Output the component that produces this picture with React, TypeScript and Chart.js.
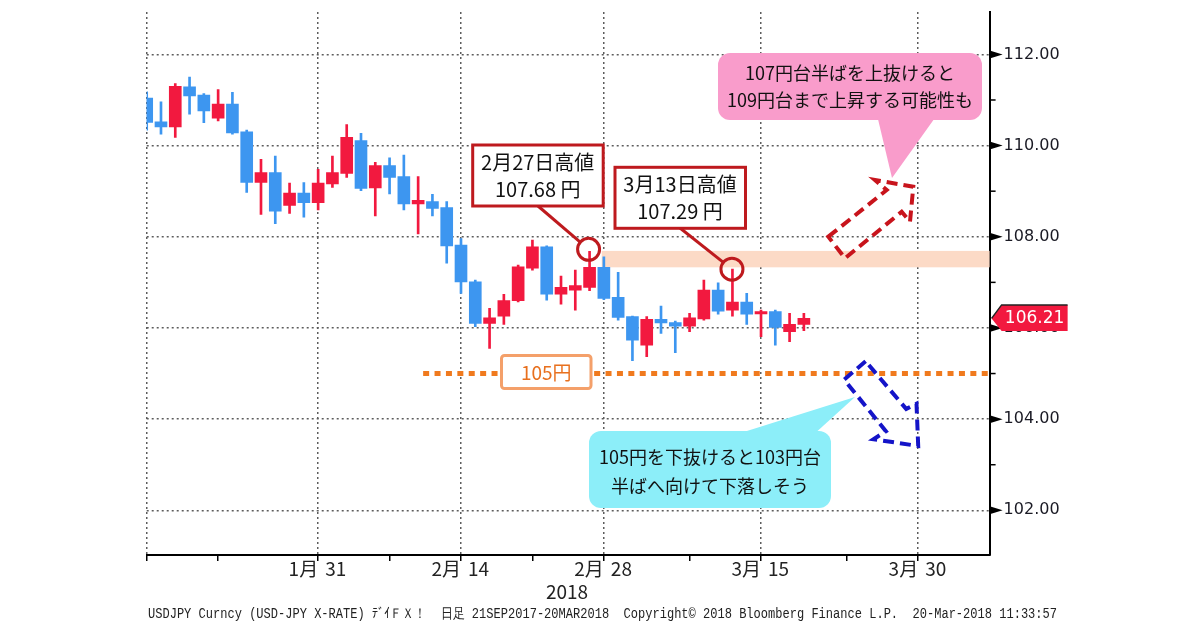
import React, { useEffect, useRef } from "react";
import { Chart, registerables } from "chart.js";

Chart.register(...registerables);

// ---- Data (daily USDJPY candles, weekday index 0 = 2018-01-15) ----
const opens = [
  111.04, 110.52, 110.41, 111.29, 111.11, 110.6, 110.91, 110.3, 109.19, 109.41,
  108.69, 108.96, 108.75, 109.16, 109.39, 110.11, 109.07, 109.56, 109.32, 108.72,
  108.77, 108.64, 107.82, 107.01, 106.1, 106.26, 106.6, 107.31, 107.78, 106.74,
  106.83, 106.89, 107.33, 106.67, 106.25, 105.62, 106.19, 106.12, 106.04, 106.2,
  106.83, 106.39, 106.57, 106.31, 106.36, 105.92, 106.08,
];
const highs = [
  111.18, 110.96, 111.36, 111.5, 111.14, 111.23, 111.17, 110.34, 109.7, 109.77,
  109.18, 109.19, 109.48, 109.77, 110.46, 110.27, 109.63, 109.73, 109.79, 109.32,
  108.93, 108.77, 107.96, 107.05, 106.43, 106.74, 107.38, 107.93, 107.8, 107.14,
  107.27, 107.68, 107.56, 107.22, 106.26, 106.25, 106.48, 106.15, 106.32, 107.05,
  106.99, 107.29, 106.76, 106.39, 106.39, 106.32, 106.32,
];
const lows = [
  110.34, 110.25, 110.18, 110.69, 110.5, 110.54, 110.25, 108.97, 108.49, 108.29,
  108.51, 108.43, 108.59, 109.08, 109.3, 109.01, 108.46, 108.94, 108.59, 108.06,
  108.46, 107.42, 106.76, 106.03, 105.55, 106.08, 106.57, 107.27, 106.61, 106.52,
  106.39, 106.82, 106.62, 106.17, 105.28, 105.37, 105.88, 105.46, 105.92, 106.17,
  106.3, 106.26, 106.08, 105.81, 105.62, 105.7, 105.94,
];
const closes = [
  110.51, 110.41, 111.3, 111.09, 110.76, 110.91, 110.28, 109.19, 109.41, 108.56,
  108.96, 108.75, 109.18, 109.41, 110.18, 109.06, 109.56, 109.3, 108.72, 108.8,
  108.62, 107.8, 107.01, 106.1, 106.22, 106.6, 107.34, 107.78, 106.74, 106.89,
  106.93, 107.33, 106.65, 106.23, 105.73, 106.19, 106.11, 106.04, 106.22, 106.83,
  106.37, 106.57, 106.3, 106.36, 106.01, 106.08, 106.21,
];

// ---- Axes ----
const xMin = 0;
const xMax = 59;
const yMin = 101.02;
const yMax = 112.93;
const yTickValues = [102, 103, 104, 105, 106, 107, 108, 109, 110, 111, 112];
const xTickIdx = [0, 5, 12, 17, 22, 27, 32, 38, 43, 49, 54];
const xGridIdx = [0, 12, 22, 32, 43, 54];
const xLabelIdx = [12, 22, 32, 43, 54];
const xMonthLabels = ["1月", "2月", "2月", "3月", "3月"];
const xDayLabels = ["31", "14", "28", "15", "30"];
const yearLabel = "2018";
const footerText =
  "USDJPY Curncy (USD-JPY X-RATE) ﾃﾞｲＦＸ！  日足 21SEP2017-20MAR2018  Copyright© 2018 Bloomberg Finance L.P.  20-Mar-2018 11:33:57";

// ---- Annotations (values) ----
const lastPrice = 106.21;
const resistanceBand = [107.33, 107.69];
const bandStartIdx = 31.85;
const supportLevel = 105;
const supportStartIdx = 19.35;
const high1Idx = 31;
const high1Value = 107.68;
const high2Idx = 41;
const high2Value = 107.29;
const box1Lines = ["2月27日高値", "107.68 円"];
const box2Lines = ["3月13日高値", "107.29 円"];
const supportLabel = "105円";
const upLines = ["107円台半ばを上抜けると", "109円台まで上昇する可能性も"];
const downLines = ["105円を下抜けると103円台", "半ばへ向けて下落しそう"];

const RED = "#F2193F";
const BLUE = "#3D96F0";
const DARKRED = "#BE1A1E";
const GRID = "#5c5c5c";
const JP = '"Noto Sans CJK JP", "Noto Sans", sans-serif';

function roundRect(ctx: CanvasRenderingContext2D, x: number, y: number, w: number, h: number, r: number) {
  ctx.beginPath();
  ctx.moveTo(x + r, y);
  ctx.arcTo(x + w, y, x + w, y + h, r);
  ctx.arcTo(x + w, y + h, x, y + h, r);
  ctx.arcTo(x, y + h, x, y, r);
  ctx.arcTo(x, y, x + w, y, r);
  ctx.closePath();
}

function text(ctx: CanvasRenderingContext2D, s: string, x: number, y: number, font: string, color: string, align: CanvasTextAlign = "center") {
  ctx.font = font;
  ctx.fillStyle = color;
  ctx.textAlign = align;
  ctx.textBaseline = "middle";
  ctx.fillText(s, x, y);
}

function poly(ctx: CanvasRenderingContext2D, pts: number[][]) {
  ctx.beginPath();
  pts.forEach((p, i) => (i === 0 ? ctx.moveTo(p[0], p[1]) : ctx.lineTo(p[0], p[1])));
  ctx.closePath();
}

const overlayPlugin = {
  id: "overlay",
  beforeDatasetsDraw(chart: any) {
    const { ctx, chartArea: ca, scales } = chart;
    const x = scales.x;
    const y = scales.y;
    ctx.save();
    ctx.fillStyle = "#FCDAC6";
    const x0 = x.getPixelForValue(bandStartIdx);
    const yt = y.getPixelForValue(resistanceBand[1]);
    const yb = y.getPixelForValue(resistanceBand[0]);
    ctx.fillRect(x0, yt, ca.right - x0, yb - yt);
    ctx.restore();
  },
  afterDatasetsDraw(chart: any) {
    const { ctx, chartArea: ca, scales } = chart;
    const x = scales.x;
    const y = scales.y;
    ctx.save();

    // 105 support dotted line
    const y105 = y.getPixelForValue(supportLevel);
    ctx.strokeStyle = "#F07A1E";
    ctx.lineWidth = 5;
    ctx.setLineDash([6, 5.4]);
    ctx.beginPath();
    ctx.moveTo(x.getPixelForValue(supportStartIdx), y105);
    ctx.lineTo(ca.right - 1, y105);
    ctx.stroke();
    ctx.setLineDash([]);

    // 105円 box
    roundRect(ctx, 501.5, y105 - 18, 89.5, 33, 3);
    ctx.fillStyle = "#fff";
    ctx.fill();
    ctx.strokeStyle = "#F4A06A";
    ctx.lineWidth = 3;
    ctx.stroke();
    text(ctx, supportLabel, 546.3, y105 - 1, `19px ${JP}`, "#E8701E");

    // circles and connectors
    const c1x = x.getPixelForValue(high1Idx) - 1;
    const c1y = y.getPixelForValue(high1Value) - 2;
    const c2x = x.getPixelForValue(high2Idx) - 0.5;
    const c2y = y.getPixelForValue(high2Value);
    const R = 11;
    ctx.strokeStyle = DARKRED;
    ctx.lineWidth = 3;
    const connect = (sx: number, sy: number, cx: number, cy: number) => {
      const dx = cx - sx;
      const dy = cy - sy;
      const d = Math.hypot(dx, dy);
      ctx.beginPath();
      ctx.moveTo(sx, sy);
      ctx.lineTo(cx - (dx / d) * R, cy - (dy / d) * R);
      ctx.stroke();
      ctx.beginPath();
      ctx.arc(cx, cy, R, 0, Math.PI * 2);
      ctx.stroke();
    };
    connect(538, 206, c1x, c1y);
    connect(680, 228, c2x, c2y);

    // high boxes
    const box = (bx: number, by: number, lines: string[]) => {
      ctx.fillStyle = "#fff";
      ctx.fillRect(bx, by, 130.5, 61);
      ctx.strokeStyle = DARKRED;
      ctx.lineWidth = 3;
      ctx.strokeRect(bx, by, 130.5, 61);
      text(ctx, lines[0], bx + 65, by + 17.5, `20px ${JP}`, "#111");
      text(ctx, lines[1], bx + 65, by + 44, `20px ${JP}`, "#111");
    };
    box(472.7, 145, box1Lines);
    box(615, 167.3, box2Lines);

    // pink callout
    ctx.fillStyle = "#F99CCB";
    roundRect(ctx, 718, 53, 264, 67, 12);
    ctx.fill();
    poly(ctx, [[877, 115], [937, 115], [892, 178]]);
    ctx.fill();
    text(ctx, upLines[0], 850, 73.5, `18px ${JP}`, "#111");
    text(ctx, upLines[1], 850, 100, `18px ${JP}`, "#111");

    // red dashed up arrow
    ctx.strokeStyle = "#C8141C";
    ctx.lineWidth = 4;
    ctx.lineJoin = "miter";
    ctx.setLineDash([11, 6]);
    poly(ctx, [[828.3, 236.7], [886.7, 190], [875, 180], [913.3, 186.7], [910, 221.7], [901.7, 211.7], [845, 258.3]]);
    ctx.stroke();
    ctx.setLineDash([]);

    // cyan callout
    ctx.fillStyle = "#8CEEF9";
    roundRect(ctx, 589, 431, 242, 77, 12);
    ctx.fill();
    poly(ctx, [[731, 436], [812, 436], [855, 397]]);
    ctx.fill();
    text(ctx, downLines[0], 710, 457, `18px ${JP}`, "#111");
    text(ctx, downLines[1], 710, 486, `18px ${JP}`, "#111");

    // blue dashed down arrow
    ctx.strokeStyle = "#1414C8";
    ctx.lineWidth = 4;
    ctx.setLineDash([11, 6]);
    poly(ctx, [[865.6, 361.3], [844.2, 379.6], [885.9, 431.3], [873.5, 439.2], [918.2, 446], [916.5, 403.7], [906.2, 408.9]]);
    ctx.stroke();
    ctx.setLineDash([]);

    ctx.restore();
  },
  afterDraw(chart: any) {
    const { ctx, chartArea: ca, scales } = chart;
    const x = scales.x;
    const y = scales.y;
    ctx.save();
    const ax = ca.right;

    // y-axis tick marks
    ctx.fillStyle = "#000";
    ctx.strokeStyle = "#000";
    ctx.lineWidth = 1.5;
    yTickValues.forEach((v) => {
      const py = y.getPixelForValue(v);
      if (v % 2 === 0) {
        poly(ctx, [[ax, py - 4], [ax + 13, py], [ax, py + 4]]);
        ctx.fill();
      } else {
        ctx.beginPath();
        ctx.moveTo(ax, py);
        ctx.lineTo(ax + 6, py);
        ctx.stroke();
      }
    });

    // last price tag
    const pt = y.getPixelForValue(lastPrice);
    ctx.fillStyle = RED;
    poly(ctx, [[ax + 2, pt], [ax + 12, pt - 13.5], [ax + 78, pt - 13.5], [ax + 78, pt + 12.5], [ax + 12, pt + 12.5]]);
    ctx.fill();
    ctx.strokeStyle = "#222";
    ctx.lineWidth = 1.5;
    ctx.beginPath();
    ctx.moveTo(ax + 2, pt);
    ctx.lineTo(ax + 12, pt - 13.5);
    ctx.lineTo(ax + 78, pt - 13.5);
    ctx.stroke();
    text(ctx, lastPrice.toFixed(2), ax + 45, pt + 0.5, '17px "DejaVu Sans", sans-serif', "#fff");

    // x labels
    xLabelIdx.forEach((idx, i) => {
      const px = x.getPixelForValue(idx);
      text(ctx, xMonthLabels[i], px, 569, `19px ${JP}`, "#222", "right");
      text(ctx, xDayLabels[i], px + 7, 569, `19px ${JP}`, "#222", "left");
    });
    text(ctx, yearLabel, 567, 592, `19px ${JP}`, "#222");

    // footer
    ctx.font = '14px "Liberation Mono", monospace';
    const w = ctx.measureText(footerText).width;
    ctx.translate(148, 614);
    ctx.scale(909 / w, 1);
    ctx.fillStyle = "#222";
    ctx.textAlign = "left";
    ctx.textBaseline = "middle";
    ctx.fillText(footerText, 0, 0);
    ctx.restore();
  },
};

export default function App() {
  const ref = useRef<HTMLCanvasElement | null>(null);

  useEffect(() => {
    if (!ref.current) return;
    const colors = opens.map((o, i) => (closes[i] >= o ? RED : BLUE));
    const bodies = opens.map((o, i) => ({ x: i, y: [o, closes[i]] }));
    const wicks = highs.map((h, i) => ({ x: i, y: [lows[i], h] }));

    const chart = new Chart(ref.current, {
      type: "bar",
      data: {
        datasets: [
          {
            label: "body",
            data: bodies as any,
            backgroundColor: colors,
            barThickness: 12,
            grouped: false,
            clip: 0,
            order: 1,
          } as any,
          {
            label: "wick",
            data: wicks as any,
            backgroundColor: colors,
            barThickness: 2,
            grouped: false,
            clip: 0,
            order: 2,
          } as any,
        ],
      },
      options: {
        animation: false,
        responsive: true,
        maintainAspectRatio: false,
        layout: { padding: { left: 146.7, top: 12, right: 0, bottom: 0 } },
        plugins: { legend: { display: false }, tooltip: { enabled: false } },
        scales: {
          x: {
            type: "linear",
            min: xMin,
            max: xMax,
            offset: false,
            afterBuildTicks: (s: any) => {
              s.ticks = xTickIdx.map((v) => ({ value: v }));
            },
            afterFit: (s: any) => {
              s.height = 75;
              s.paddingLeft = 0;
              s.paddingRight = 0;
            },
            ticks: { display: false, autoSkip: false },
            grid: {
              offset: false,
              color: (c: any) => (c.tick && xGridIdx.includes(c.tick.value) ? GRID : "rgba(0,0,0,0)"),
              lineWidth: 1.5,
              drawTicks: true,
              tickLength: 6,
              tickColor: "#000",
              tickWidth: 1.5,
              tickBorderDash: [],
            },
            border: { display: true, color: "#000", width: 2, dash: [2, 3] },
          } as any,
          y: {
            type: "linear",
            position: "right",
            min: yMin,
            max: yMax,
            afterBuildTicks: (s: any) => {
              s.ticks = yTickValues.map((v) => ({ value: v }));
            },
            afterFit: (s: any) => {
              s.width = 1200 - 989.6;
              s.paddingTop = 0;
              s.paddingBottom = 0;
            },
            ticks: {
              autoSkip: false,
              padding: 14,
              color: "#1a1a24",
              font: { family: '"DejaVu Sans", sans-serif', size: 16 },
              callback: (v: any) => (Number(v) % 2 === 0 ? Number(v).toFixed(2) : ""),
            },
            grid: {
              color: (c: any) => (c.tick && c.tick.value % 2 === 0 ? GRID : "rgba(0,0,0,0)"),
              lineWidth: 1.5,
              drawTicks: false,
            },
            border: { display: true, color: "#000", width: 2, dash: [2, 3] },
          } as any,
        },
      },
      plugins: [overlayPlugin],
    });
    return () => chart.destroy();
  }, []);

  return (
    <div style={{ position: "absolute", left: 0, top: 0, width: 1200, height: 630, background: "#fff" }}>
      <canvas ref={ref} />
    </div>
  );
}
